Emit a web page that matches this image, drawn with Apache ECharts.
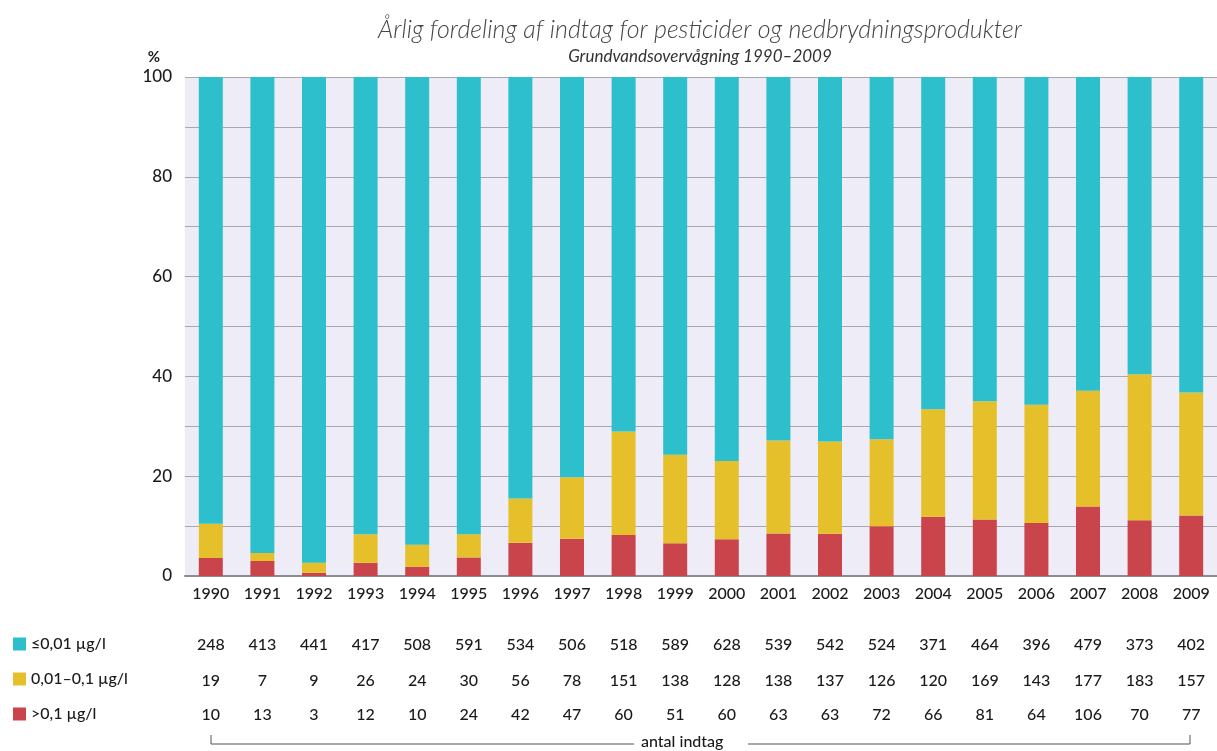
<!DOCTYPE html>
<html>
<head>
<meta charset="utf-8">
<script src="https://cdn.jsdelivr.net/npm/echarts@6/dist/echarts.min.js"></script>
<style>
  html, body { margin: 0; padding: 0; background: #fff; }
  #main { width: 1217px; height: 751px; }
</style>
</head>
<body>
<div id="main"></div>
<script>
const years = ["1990", "1991", "1992", "1993", "1994", "1995", "1996", "1997", "1998", "1999",
  "2000", "2001", "2002", "2003", "2004", "2005", "2006", "2007", "2008", "2009"];
// antal indtag per year
const lowCounts = [248, 413, 441, 417, 508, 591, 534, 506, 518, 589, 628, 539, 542, 524, 371, 464, 396, 479, 373, 402];
const midCounts = [19, 7, 9, 26, 24, 30, 56, 78, 151, 138, 128, 138, 137, 126, 120, 169, 143, 177, 183, 157];
const highCounts = [10, 13, 3, 12, 10, 24, 42, 47, 60, 51, 60, 63, 63, 72, 66, 81, 64, 106, 70, 77];
const seriesNames = ["≤0,01 µg/l", "0,01–0,1 µg/l", ">0,1 µg/l"];

const totals = years.map((_, i) => lowCounts[i] + midCounts[i] + highCounts[i]);
const pct = (arr) => arr.map((v, i) => (v / totals[i]) * 100);

const font = "Lato, 'Open Sans', sans-serif";
const txt = "#1a1a1a";

const chart = echarts.init(document.getElementById("main"));

// extra x axes that act as the count table under the chart
function tableAxis(counts, offset) {
  return {
    type: "category",
    data: years,
    position: "bottom",
    offset: offset,
    axisLine: { show: false },
    axisTick: { show: false },
    axisLabel: {
      margin: 8,
      color: txt,
      fontFamily: font,
      fontSize: 16,
      fontWeight: 500,
      formatter: (v, i) => String(counts[i])
    }
  };
}

const option = {
  animation: false,
  title: [
    {
      text: "Årlig fordeling af indtag for pesticider og nedbrydningsprodukter",
      left: 695,
      top: 12,
      textAlign: "center",
      textStyle: { fontFamily: font, fontStyle: "italic", fontWeight: 300, fontSize: 25, color: "#444" }
    },
    {
      text: "Grundvandsovervågning 1990–2009",
      left: 695,
      top: 43,
      textAlign: "center",
      textStyle: { fontFamily: font, fontStyle: "italic", fontWeight: 400, fontSize: 17, color: "#333" }
    }
  ],
  legend: {
    orient: "vertical",
    left: 8,
    top: 631,
    itemWidth: 13,
    itemHeight: 13,
    itemGap: 19,
    icon: "rect",
    data: seriesNames,
    selectedMode: false,
    textStyle: { fontFamily: font, fontSize: 16, fontWeight: 500, color: txt, lineHeight: 16 }
  },
  grid: { left: 185, right: 0, top: 77, bottom: 175, show: true, backgroundColor: "#eeedf7", borderWidth: 0 },
  xAxis: [
    {
      type: "category",
      data: years,
      axisLine: { lineStyle: { color: "#8c8c90", width: 2 } },
      axisTick: { show: false },
      axisLabel: { margin: 10, color: txt, fontFamily: font, fontSize: 16, fontWeight: 500 }
    },
    tableAxis(lowCounts, 53),
    tableAxis(midCounts, 89),
    tableAxis(highCounts, 123)
  ],
  yAxis: {
    type: "value",
    min: 0,
    max: 100,
    interval: 10,
    name: "%",
    nameGap: 12,
    nameTextStyle: { fontFamily: font, fontSize: 15, fontWeight: "bold", color: txt, align: "right", padding: [0, 25, 0, 0] },
    axisLine: { show: false },
    axisTick: { show: false },
    splitLine: { lineStyle: { color: "#a8a7ae", width: 1 } },
    axisLabel: {
      margin: 13,
      color: txt,
      fontFamily: font,
      fontSize: 17,
      fontWeight: 500,
      formatter: (v) => (v % 20 === 0 ? String(v) : "")
    }
  },
  series: [
    {
      name: seriesNames[2],
      type: "bar",
      stack: "all",
      barWidth: 24,
      itemStyle: { color: "#c9444b" },
      data: pct(highCounts)
    },
    {
      name: seriesNames[1],
      type: "bar",
      stack: "all",
      barWidth: 24,
      itemStyle: { color: "#e6c02a" },
      data: pct(midCounts)
    },
    {
      name: seriesNames[0],
      type: "bar",
      stack: "all",
      barWidth: 24,
      itemStyle: { color: "#2ebfcd" },
      data: pct(lowCounts)
    }
  ],
  graphic: [
    {
      type: "polyline",
      shape: { points: [[211, 735], [211, 744], [634, 744]] },
      style: { stroke: "#555", lineWidth: 1, fill: null }
    },
    {
      type: "polyline",
      shape: { points: [[748, 744], [1190, 744], [1190, 735]] },
      style: { stroke: "#555", lineWidth: 1, fill: null }
    },
    {
      type: "text",
      left: 641,
      top: 734,
      style: { text: "antal indtag", font: "500 16px " + font, fill: txt }
    }
  ]
};

chart.setOption(option);
</script>
</body>
</html>
